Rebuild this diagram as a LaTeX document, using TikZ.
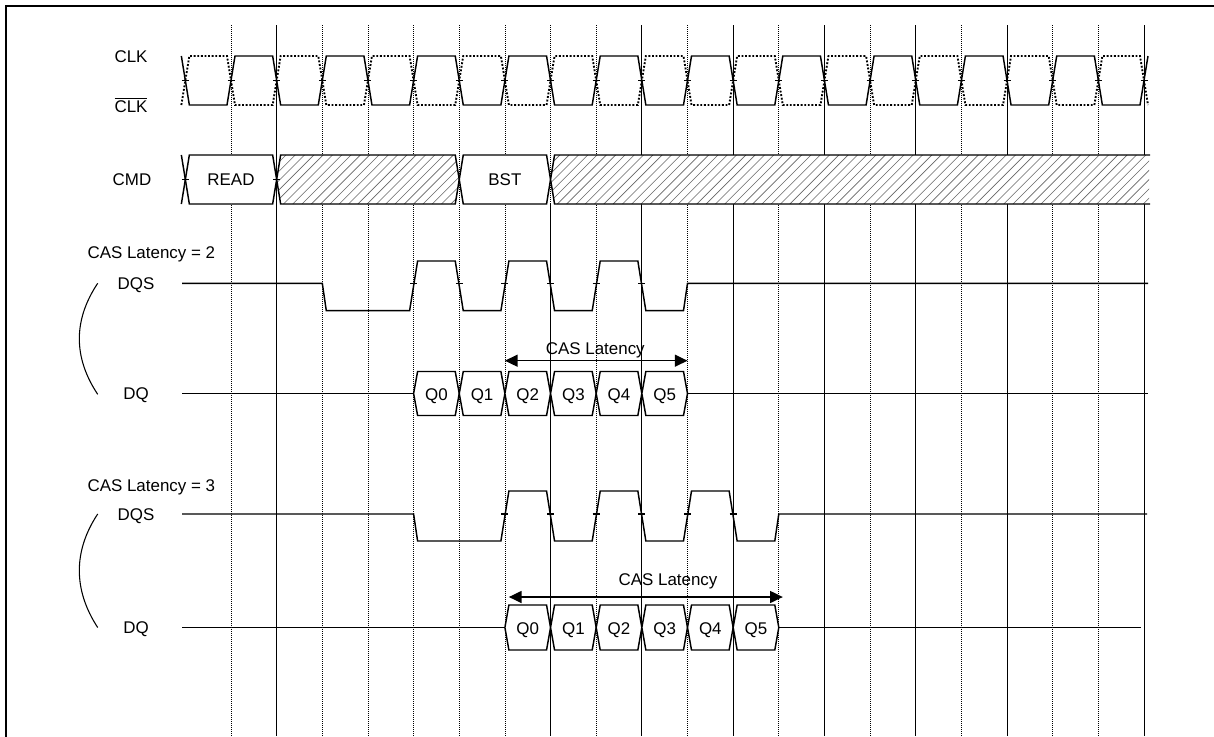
\documentclass[tikz,border=0pt]{standalone}
\usepackage{fontspec}
\setmainfont{Liberation Sans}
\usetikzlibrary{arrows.meta}
\newcommand{\colx}[1]{231+45.65*(#1)}
\begin{document}
\begin{tikzpicture}[x=0.75pt,y=-0.75pt,
  gsolid/.style={line width=0.55pt},
  gdot/.style={line width=0.6pt, dash pattern=on 0.7pt off 0.8pt},
  wave/.style={line width=1.1pt, line join=miter},
  wavedot/.style={line width=1.4pt, dash pattern=on 1.4pt off 1.3pt},
  tickm/.style={line width=0.9pt},
  lbl/.style={font=\fontsize{12.7pt}{14pt}\selectfont, inner sep=0pt, anchor=base},
  bus/.style={line width=1.1pt, fill=white, line join=miter},
  hatchl/.style={line width=0.45pt, black!60},
  casarrow/.style={line width=0.9pt, {Triangle[length=9.5pt,width=9pt]}-{Triangle[length=9.5pt,width=9pt]}},
  framel/.style={line width=1.6pt},
  brace/.style={line width=0.8pt}
]
\useasboundingbox (0,0) rectangle (1214,736);
\clip (0,0) rectangle (1214,736);

% grid
\foreach \k in {0,2,3,4,5,6,8,10,12,14,16,18,19}
  \draw[gdot] ({\colx{\k}},25) -- ({\colx{\k}},736);
\foreach \k in {1,9,11,13,15,17,20}
  \draw[gsolid] ({\colx{\k}},25) -- ({\colx{\k}},736);
\draw[gdot] ({\colx{7}},25) -- ({\colx{7}},204);
\draw[gsolid] ({\colx{7}},204) -- ({\colx{7}},736);

% frame
\draw[framel] (6,740) -- (6,6) -- (1220,6);

% labels
\node[lbl] (clk) at (131,62) {CLK};
\node[lbl] (clkn) at (131,112) {$\overline{\hbox{CLK}}$};
\node[lbl] (cmd) at (132,185.5) {CMD};
\node[lbl, anchor=base west] (cl2) at (87.3,258.5) {CAS Latency = 2};
\node[lbl] (dqs2) at (136,289.5) {DQS};
\node[lbl] (dq2) at (136,399.5) {DQ};
\node[lbl, anchor=base west] (cl3) at (87.3,491.5) {CAS Latency = 3};
\node[lbl] (dqs3) at (136,520) {DQS};
\node[lbl] (dq3) at (136,633.5) {DQ};

% CLK
\draw[wave] ({\colx{-1}-4},56)
  \foreach \m in {0,...,9}{ -- ({\colx{2*\m-1}+4},105) -- ({\colx{2*\m}-4},105) -- ({\colx{2*\m}+4},56) -- ({\colx{2*\m+1}-4},56) }
  -- ({\colx{19}+4},105) -- ({\colx{20}-4},105) -- ({\colx{20}+4},56);
% CLK#
\draw[wavedot] ({\colx{-1}-4},105)
  \foreach \m in {0,...,9}{ -- ({\colx{2*\m-1}+4},56) -- ({\colx{2*\m}-4},56) -- ({\colx{2*\m}+4},105) -- ({\colx{2*\m+1}-4},105) }
  -- ({\colx{19}+4},56) -- ({\colx{20}-4},56) -- ({\colx{20}+4},105);
\foreach \k in {-1,...,20}
  \draw[tickm] ({\colx{\k}-3.5},80.5) -- ++(7,0);

% CMD
\draw[wave] ({\colx{-1}-4},155) -- ({\colx{-1}},179.5) -- ({\colx{-1}-4},204);
\draw[bus] ({\colx{-1}},179.5) -- ({\colx{-1}+4},155) -- ({\colx{1}-4},155) -- ({\colx{1}},179.5) -- ({\colx{1}-4},204) -- ({\colx{-1}+4},204) -- cycle;
\node[lbl] (read) at ({\colx{0}},185.5) {READ};
% hatched 1
\fill[white] ({\colx{1}},179.5) -- ({\colx{1}+4},155) -- ({\colx{5}-4},155) -- ({\colx{5}},179.5) -- ({\colx{5}-4},204) -- ({\colx{1}+4},204) -- cycle;
\begin{scope}
\clip ({\colx{1}},179.5) -- ({\colx{1}+4},155) -- ({\colx{5}-4},155) -- ({\colx{5}},179.5) -- ({\colx{5}-4},204) -- ({\colx{1}+4},204) -- cycle;
\foreach \h in {0,...,26}
  \draw[hatchl] ({\colx{1}-49+9.3*\h},204) -- ++(49,-49);
\end{scope}
\draw[wave] ({\colx{1}},179.5) -- ({\colx{1}+4},155) -- ({\colx{5}-4},155) -- ({\colx{5}},179.5) -- ({\colx{5}-4},204) -- ({\colx{1}+4},204) -- cycle;
% BST
\draw[bus] ({\colx{5}},179.5) -- ({\colx{5}+4},155) -- ({\colx{7}-4},155) -- ({\colx{7}},179.5) -- ({\colx{7}-4},204) -- ({\colx{5}+4},204) -- cycle;
\node[lbl] (bst) at ({\colx{6}},185.5) {BST};
% hatched 2
\fill[white] ({\colx{7}},179.5) -- ({\colx{7}+4},155) -- (1149,155) -- (1149,204) -- ({\colx{7}+4},204) -- cycle;
\begin{scope}
\clip ({\colx{7}},179.5) -- ({\colx{7}+4},155) -- (1149,155) -- (1149,204) -- ({\colx{7}+4},204) -- cycle;
\foreach \h in {0,...,71}
  \draw[hatchl] ({\colx{7}-49+9.3*\h},204) -- ++(49,-49);
\end{scope}
\draw[wave] (1150,155) -- ({\colx{7}+4},155) -- ({\colx{7}},179.5) -- ({\colx{7}+4},204) -- (1150,204);
\foreach \k in {-1,1}
  \draw[tickm] ({\colx{\k}-3.5},179.5) -- ++(7,0);

% ---- CAS Latency = 2 ----
\draw[brace] (97.7,283.3) .. controls (73.2,320) and (73.2,357.5) .. (97.7,394.3);
\draw[wave] (182,283.3) -- ({\colx{2}},283.3) -- ({\colx{2}+4},310.7)
  -- ({\colx{4}-4},310.7) -- ({\colx{4}+4},261) -- ({\colx{5}-4},261) -- ({\colx{5}+4},310.7)
  -- ({\colx{6}-4},310.7) -- ({\colx{6}+4},261) -- ({\colx{7}-4},261) -- ({\colx{7}+4},310.7)
  -- ({\colx{8}-4},310.7) -- ({\colx{8}+4},261) -- ({\colx{9}-4},261) -- ({\colx{9}+4},310.7)
  -- ({\colx{10}-4},310.7) -- ({\colx{10}},283.3) -- (1148,283.3);
\foreach \k in {4,...,9}
  \draw[tickm] ({\colx{\k}-3.5},283.3) -- ++(7,0);
\draw[wave] (182,393.5) -- ({\colx{4}},393.5);
\draw[wave] ({\colx{10}},393.5) -- (1148,393.5);
\foreach \i in {0,...,5}{
  \pgfmathsetmacro\xa{231+45.65*(4+\i)}
  \pgfmathsetmacro\xb{\xa+45.65}
  \draw[bus] (\xa,393.5) -- ({\xa+4},371.5) -- ({\xb-4},371.5) -- (\xb,393.5) -- ({\xb-4},415.5) -- ({\xa+4},415.5) -- cycle;
  \node[lbl] (qa\i) at ({(\xa+\xb)/2},400.5) {Q\i};
}
\coordinate (a2l) at ({\colx{6}},360.7);
\coordinate (a2r) at ({\colx{10}},360.7);
\draw[casarrow] (a2l) -- (a2r);
\node[lbl] (cas2) at (595.3,354) {CAS Latency};

% ---- CAS Latency = 3 ----
\draw[brace] (97.7,514) .. controls (73.2,551) and (73.2,590) .. (97.7,627.5);
\draw[wave] (182,514) -- ({\colx{4}},514) -- ({\colx{4}+4},541)
  -- ({\colx{6}-4},541) -- ({\colx{6}+4},491) -- ({\colx{7}-4},491) -- ({\colx{7}+4},541)
  -- ({\colx{8}-4},541) -- ({\colx{8}+4},491) -- ({\colx{9}-4},491) -- ({\colx{9}+4},541)
  -- ({\colx{10}-4},541) -- ({\colx{10}+4},491) -- ({\colx{11}-4},491) -- ({\colx{11}+4},541)
  -- ({\colx{12}-4},541) -- ({\colx{12}},514) -- (1147,514);
\foreach \k in {6,...,11}
  \draw[tickm] ({\colx{\k}-3.5},514) -- ++(7,0);
\draw[wave] (182,627.5) -- ({\colx{6}},627.5);
\draw[wave] ({\colx{12}},627.5) -- (1141,627.5);
\foreach \i in {0,...,5}{
  \pgfmathsetmacro\xa{231+45.65*(6+\i)}
  \pgfmathsetmacro\xb{\xa+45.65}
  \draw[bus] (\xa,627.5) -- ({\xa+4},605) -- ({\xb-4},605) -- (\xb,627.5) -- ({\xb-4},650) -- ({\xa+4},650) -- cycle;
  \node[lbl] (qb\i) at ({(\xa+\xb)/2},634) {Q\i};
}
\coordinate (a3l) at ({\colx{6}+4},597);
\coordinate (a3r) at ({\colx{12}+4},597);
\draw[casarrow] (a3l) -- (a3r);
\node[lbl] (cas3) at (668,585.5) {CAS Latency};
\end{tikzpicture}
\end{document}
